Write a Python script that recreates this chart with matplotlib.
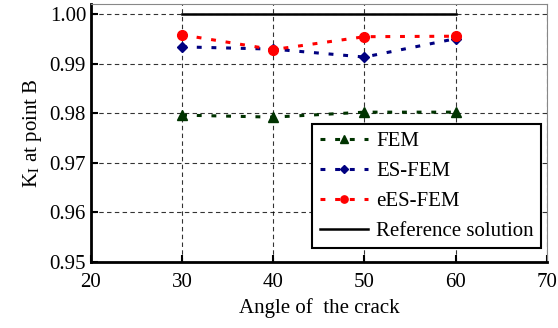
import numpy as np
import matplotlib.pyplot as plt

plt.rcParams['font.family'] = ['Liberation Serif', 'DejaVu Serif']
plt.rcParams['mathtext.fontset'] = 'stix'

angles = [30, 40, 50, 60]
fem = [0.9796, 0.9792, 0.9802, 0.9802]
es_fem = [0.99335, 0.9929, 0.9913, 0.9950]
ees_fem = [0.99577, 0.9928, 0.9954, 0.9955]
reference = [1.0, 1.0, 1.0, 1.0]

fig = plt.figure(figsize=(5.58, 3.28), dpi=100)
ax = fig.add_axes([0.163, 0.201, 0.817, 0.787])

dash = (0, (1.6, 3.2))
ax.plot(angles, fem, color='#003300', linestyle=dash, lw=2.2, marker='^', ms=7, label='FEM')
ax.plot(angles, es_fem, color='#000080', linestyle=dash, lw=2.2, marker='D', ms=5, label='ES-FEM')
ax.plot(angles, ees_fem, color='red', linestyle=dash, lw=2.2, marker='o', ms=7, label='eES-FEM')
ax.plot(angles, reference, color='black', lw=1.8, label='Reference solution')

ax.set_xlim(20, 70)
ax.set_ylim(0.95, 1.002)
ax.set_xticks(np.arange(20, 71, 10))
ax.set_yticks(np.arange(0.95, 1.0001, 0.01))
ax.set_yticklabels(['0.95', '0.96', '0.97', '0.98', '0.99', '1.00'])
ax.tick_params(direction='in', labelsize=15, length=5, width=1.5)
ax.tick_params(axis='x', pad=8)

ax.grid(True, color='black', linestyle=(0, (4, 3)), lw=0.8, alpha=0.8)

ax.spines['left'].set_linewidth(2)
ax.spines['bottom'].set_linewidth(2)
ax.spines['top'].set_color('#888888')
ax.spines['right'].set_color('#888888')

ax.set_xlabel('Angle of  the crack', fontsize=15, labelpad=4)
ax.set_ylabel('K$_{\\mathrm{I}}$ at point B', fontsize=15)

# legend markers a bit smaller than the plot markers
leg = ax.legend(loc='lower right', bbox_to_anchor=(0.987, 0.054), borderaxespad=0,
                fontsize=15, frameon=True, fancybox=False,
                edgecolor='black', framealpha=1, handlelength=2.3,
                labelspacing=0.5, markerscale=0.75,
                borderpad=0.35, handletextpad=0.4)
leg.get_frame().set_linewidth(1.5)

fig.savefig('out.png', dpi=100)
